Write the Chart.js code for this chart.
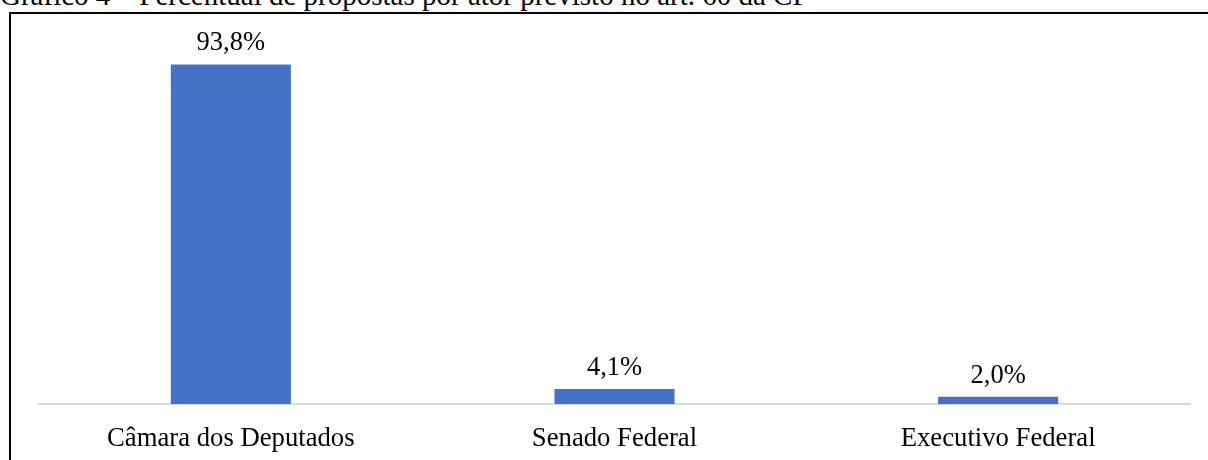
<!DOCTYPE html>
<html lang="pt">
<head>
    <meta charset="UTF-8">
    <title>Gráfico 4</title>
    <script src="https://cdn.jsdelivr.net/npm/chart.js"></script>
    <style>
        body { margin: 0; width: 1208px; height: 460px; overflow: hidden; position: relative; background: #fff; }
        #titulo { position: absolute; left: 0; top: -21px; font: 29px "Liberation Serif", serif; white-space: nowrap; color: #000; }
        #moldura { position: absolute; left: 9px; top: 12px; width: 1210px; height: 460px; border: 2px solid #000; }
        #wrap { position: absolute; left: 0; top: 0; width: 1208px; height: 466px; }
    </style>
</head>
<body>
    <div id="titulo">Gráfico 4 – Percentual de propostas por ator previsto no art. 60 da CF</div>
    <div id="moldura"></div>
    <div id="wrap"><canvas id="grafico"></canvas></div>

    <script>
        const categorias = ["Câmara dos Deputados", "Senado Federal", "Executivo Federal"];
        const percentuais = [93.8, 4.1, 2.0];

        // rótulos em cima das barras, formato brasileiro
        const rotulos = {
            id: "rotulos",
            afterDatasetsDraw(chart) {
                const ctx = chart.ctx;
                ctx.save();
                ctx.font = "26.5px 'Liberation Serif'";
                ctx.fillStyle = "#000";
                ctx.textAlign = "center";
                ctx.textBaseline = "alphabetic";
                chart.getDatasetMeta(0).data.forEach((bar, i) => {
                    const txt = percentuais[i].toFixed(1).replace(".", ",") + "%";
                    ctx.fillText(txt, bar.x, bar.y - 14);
                });
                ctx.restore();
            }
        };

        new Chart(document.getElementById("grafico"), {
            type: "bar",
            data: {
                labels: categorias,
                datasets: [{
                    data: percentuais,
                    backgroundColor: "#4472C4",
                    barPercentage: 1,
                    categoryPercentage: 0.313
                }]
            },
            options: {
                responsive: true,
                maintainAspectRatio: false,
                animation: false,
                layout: { padding: { left: 39, right: 18, top: 42, bottom: 0 } },
                plugins: { legend: { display: false }, tooltip: { enabled: false } },
                scales: {
                    x: {
                        grid: { display: false },
                        border: { display: true, color: "#d9d9d9", width: 2 },
                        ticks: { color: "#000", padding: 11, font: { family: "Liberation Serif", size: 26.7 } }
                    },
                    y: { display: false, min: 0, max: 100 }
                }
            },
            plugins: [rotulos]
        });
    </script>
</body>
</html>
